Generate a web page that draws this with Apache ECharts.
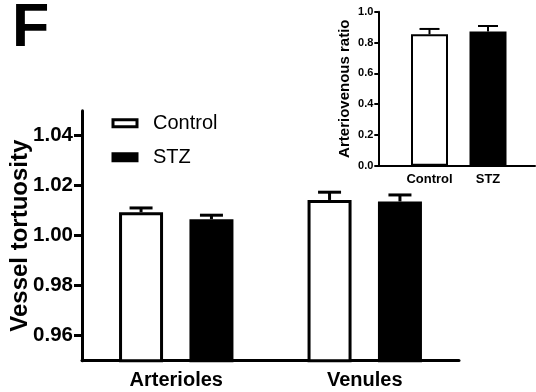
<!DOCTYPE html>
<html>
<head>
<meta charset="utf-8">
<script src="https://cdn.jsdelivr.net/npm/echarts@6/dist/echarts.min.js"></script>
<style>html,body{margin:0;padding:0;background:#fff}#c{width:536px;height:392px}</style>
</head>
<body>
<div id="c"></div>
<script>
// Main chart data
var categories = ['Arterioles', 'Venules'];
var seriesNames = ['Control', 'STZ'];
var controlMean = [1.0094, 1.0143];
var controlErr = [0.0017, 0.0031];
var stzMean = [1.0066, 1.0137];
var stzErr = [0.0016, 0.0026];
var mainTicks = [0.96, 0.98, 1.00, 1.02, 1.04];

// Inset data
var insetCategories = ['Control', 'STZ'];
var insetMean = [0.853, 0.871];
var insetErr = [0.035, 0.036];

var FONT = '"Liberation Sans", Arial, Helvetica, sans-serif';
var chart = echarts.init(document.getElementById('c'), null, {renderer: 'canvas'});

function errSeries(name, xIdx, yIdx, means, errs, offset, lw, capW) {
  return {
    type: 'custom', name: name, xAxisIndex: xIdx, yAxisIndex: yIdx, z: 3,
    data: means.map(function (m, i) { return [i, m, errs[i]]; }),
    renderItem: function (params, api) {
      var base = api.coord([api.value(0), api.value(1)]);
      var top = api.coord([api.value(0), api.value(1) + api.value(2)]);
      var x = base[0] + offset;
      return {
        type: 'group',
        children: [
          {type: 'line', shape: {x1: x, y1: base[1], x2: x, y2: top[1]}, style: {stroke: '#000', lineWidth: lw}},
          {type: 'line', shape: {x1: x - capW / 2, y1: top[1], x2: x + capW / 2, y2: top[1]}, style: {stroke: '#000', lineWidth: lw}}
        ]
      };
    }
  };
}

var option = {
  animation: false,
  backgroundColor: '#fff',
  textStyle: {fontFamily: FONT, color: '#000'},
  graphic: [{
    type: 'text', left: 12, top: -1,
    style: {text: 'F', font: 'bold 61px ' + FONT, fill: '#000'}
  }],
  legend: {
    orient: 'vertical', left: 111.5, top: 113.3, padding: 0,
    icon: 'rect',
    itemWidth: 24, itemHeight: 7, itemGap: 14,
    data: seriesNames,
    textStyle: {fontSize: 20, fontFamily: FONT, color: '#000', lineHeight: 20, padding: [0, 0, 0, 11]},
    itemStyle: {borderWidth: 3, borderColor: '#000'}
  },
  grid: [
    {left: 82, right: 77, top: 110.7, bottom: 31.3, containLabel: false, outerBoundsMode: 'none'},
    {left: 378.3, right: 1, top: 11.7, bottom: 226.3, containLabel: false, outerBoundsMode: 'none'},
    {left: 400.25, width: 117, top: 11.7, bottom: 226.3, containLabel: false, outerBoundsMode: 'none'}
  ],
  xAxis: [
    {
      type: 'category', gridIndex: 0, data: categories,
      axisLine: {lineStyle: {color: '#000', width: 3}},
      axisTick: {alignWithLabel: true, length: 7, lineStyle: {color: '#000', width: 3}},
      axisLabel: {interval: 0, fontSize: 20, fontWeight: 'bold', color: '#000', fontFamily: FONT, margin: 9.6}
    },
    {
      type: 'value', gridIndex: 1, min: 0, max: 1,
      axisLine: {show: true, lineStyle: {color: '#000', width: 2}},
      axisTick: {show: false}, axisLabel: {show: false}, splitLine: {show: false}
    },
    {
      type: 'category', gridIndex: 2, data: insetCategories,
      axisLine: {show: false},
      axisTick: {alignWithLabel: true, length: 4, lineStyle: {color: '#000', width: 2}},
      axisLabel: {interval: 0, fontSize: 13, fontWeight: 'bold', color: '#000', fontFamily: FONT, margin: 7.5}
    }
  ],
  yAxis: [
    {
      type: 'value', gridIndex: 0, min: 0.95, max: 1.05,
      name: 'Vessel tortuosity', nameLocation: 'middle', nameGap: 50, nameMoveOverlap: false,
      nameTextStyle: {fontSize: 24, fontWeight: 'bold', color: '#000', fontFamily: FONT},
      axisLine: {show: true, lineStyle: {color: '#000', width: 3}},
      axisTick: {show: true, length: 8, customValues: mainTicks, lineStyle: {color: '#000', width: 3}},
      axisLabel: {
        customValues: mainTicks, fontSize: 20.5, fontWeight: 'bold', color: '#000', fontFamily: FONT, margin: 9,
        formatter: function (v) { return v.toFixed(2); }
      },
      splitLine: {show: false}
    },
    {
      type: 'value', gridIndex: 1, min: 0, max: 1, interval: 0.2,
      name: 'Arteriovenous ratio', nameLocation: 'middle', nameGap: 26, nameMoveOverlap: false,
      nameTextStyle: {fontSize: 15, fontWeight: 'bold', color: '#000', fontFamily: FONT},
      axisLine: {show: true, lineStyle: {color: '#000', width: 2}},
      axisTick: {show: true, length: 4, lineStyle: {color: '#000', width: 2}},
      axisLabel: {
        fontSize: 11, fontWeight: 'bold', color: '#000', fontFamily: FONT, margin: 5,
        formatter: function (v) { return v.toFixed(1); }
      },
      splitLine: {show: false}
    },
    {
      type: 'value', gridIndex: 2, min: 0, max: 1, show: false
    }
  ],
  series: [
    {
      type: 'bar', name: seriesNames[0], xAxisIndex: 0, yAxisIndex: 0,
      data: controlMean, barWidth: 44, barGap: '60%', z: 2,
      itemStyle: {color: '#fff', borderColor: '#000', borderWidth: 3}
    },
    {
      type: 'bar', name: seriesNames[1], xAxisIndex: 0, yAxisIndex: 0,
      data: stzMean, barWidth: 44, barGap: '60%', z: 2,
      itemStyle: {color: '#000', borderColor: '#000', borderWidth: 3}
    },
    errSeries('errControl', 0, 0, controlMean, controlErr, -35.2, 3, 23),
    errSeries('errSTZ', 0, 0, stzMean, stzErr, 35.2, 3, 23),
    {
      type: 'bar', name: 'ratio', xAxisIndex: 2, yAxisIndex: 2, barWidth: 37, z: 2,
      data: insetMean.map(function (v, i) {
        return {value: v, itemStyle: {color: i === 0 ? '#fff' : '#000'}};
      }),
      itemStyle: {borderColor: '#000', borderWidth: 2}
    },
    errSeries('errRatio', 2, 2, insetMean, insetErr, 0, 2, 20)
  ]
};
chart.setOption(option);
</script>
</body>
</html>
